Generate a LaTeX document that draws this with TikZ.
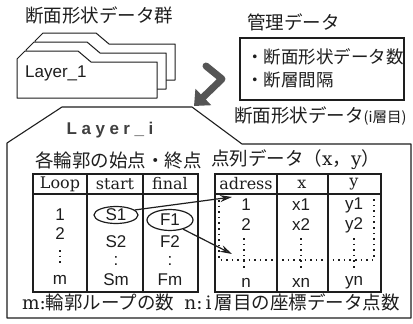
\documentclass[tikz,border=0pt]{standalone}
\usepackage{fontspec}
\setmainfont{DejaVu Serif}
\setsansfont{Liberation Sans}
\newfontfamily\jp{Noto Sans CJK JP}
\usetikzlibrary{arrows.meta,shapes.geometric}
\definecolor{ink}{HTML}{1E1E1E}
\definecolor{arrowgray}{HTML}{555555}
\begin{document}
\begin{tikzpicture}[x=1pt,y=-1pt,
  line/.style={draw=ink,line width=1.1pt},
  folder/.style={draw=ink,line width=1pt,fill=white,line join=round},
  jptext/.style={font=\jp\fontsize{18.5}{20}\selectfont,text=ink,inner sep=0pt},
  jpitem/.style={font=\jp\fontsize{17.5}{19}\selectfont,text=ink,inner sep=0pt},
  head/.style={font=\rmfamily\fontsize{16}{17}\selectfont,text=ink,inner sep=0pt},
  cell/.style={font=\sffamily\fontsize{17}{18}\selectfont,text=ink,inner sep=0pt},
  oval/.style={draw=ink,line width=1.2pt,ellipse,inner sep=0pt},
  dots/.style={draw=ink,line width=1.8pt,dash pattern=on 1.6pt off 4pt},
  conn/.style={draw=ink,line width=1.2pt,-{Stealth[length=12pt,width=7pt,fill=arrowgray]}},
  bent/.style={draw=arrowgray,line width=7pt,line join=round,line cap=round,-{Triangle[length=13pt,width=22pt]}}
]
\useasboundingbox (0,0) rectangle (413,324);
\fill[white] (0,0) rectangle (413,324);

% title
\node[jptext,anchor=west] (title) at (25,15) {断面形状データ群};

% folder stack
\foreach \dx/\dy in {18/18,9/9,0/0}{
  \path[folder,shift={(\dx,-\dy)}] (17,98) -- (17,59) -- (25,51) -- (78,51) -- (91,62) -- (157,62) -- (157,98) -- cycle;
}
\node[font=\sffamily\fontsize{17}{18}\selectfont,text=ink,inner sep=0pt,anchor=west] (layer1) at (25,73) {Layer\_1};

% management data
\node[jptext,anchor=west] (kanri) at (247,22) {管理データ};
\draw[line] (240,38) rectangle (404,100);
\node[jpitem,anchor=west] (item1) at (246,57) {・断面形状データ数};
\node[jpitem,anchor=west] (item2) at (246,80) {・断層間隔};

% bent arrow
\coordinate (ba1) at (206,66);
\coordinate (ba2) at (222,79);
\coordinate (ba3) at (194,106);
\draw[bent] (ba1) -- (ba2) -- (ba3);

% layer i outline
\draw[line,line join=round] (7,318) -- (7,143) -- (62,107) -- (192,107) -- (242,144) -- (411,144) -- (411,318) -- cycle;
\node[jptext,anchor=west] (dansec) at (234,116) {断面形状データ{\fontsize{14.5}{15}\selectfont (i層目)}};
\node[font=\sffamily\bfseries\fontsize{17}{18}\selectfont,text=ink!85,inner sep=0pt] (layeri) at (110,130)
  {L\kern4.5pt a\kern4.5pt y\kern4.5pt e\kern4.5pt r\kern4.5pt \_\kern4.5pt i};

\node[jptext,anchor=west] (kaku) at (35,160) {各輪郭の始点・終点};
\node[jptext,anchor=west] (tenretsu) at (211,160) {点列データ（{\rmfamily x}，{\rmfamily y}）};

% left table
\draw[line] (33,174) rectangle (198,292);
\draw[line] (33,194) -- (198,194);
\draw[line] (87,174) -- (87,292);
\draw[line] (143,174) -- (143,292);
\node[head] (hloop) at (60,184) {Loop};
\node[head] (hstart) at (115,184) {start};
\node[head] (hfinal) at (170,184) {final};

\node[cell] (l1) at (60,215) {1};
\node[cell] (l2) at (60,234) {2};
\draw[dots] (60,250) -- (60,266);
\node[cell] (lm) at (60,280) {m};

\node[oval,minimum width=44pt,minimum height=17pt] (s1) at (116,215) {};
\node[cell] (s1t) at (116,215) {S1};
\node[cell] (s2) at (116,242) {S2};
\node[cell] (sc) at (116,261) {:};
\node[cell] (sm) at (116,280) {Sm};

\node[oval,minimum width=46pt,minimum height=21pt] (f1) at (170,220) {};
\node[cell] (f1t) at (170,220) {F1};
\node[cell] (f2) at (170,242) {F2};
\node[cell] (fc) at (170,261) {:};
\node[cell] (fm) at (170,280) {Fm};

% right table
\draw[line] (215,174) rectangle (381,292);
\draw[line] (215,194) -- (381,194);
\draw[line] (277,174) -- (277,292);
\draw[line] (328,174) -- (328,292);
\node[head] (hadr) at (246,184) {adress};
\node[head] (hx) at (302,184) {x};
\node[head] (hy) at (354,184) {y};

\node[cell] (a1) at (246,205) {1};
\node[cell] (a2) at (246,225) {2};
\node[cell] (an) at (246,283) {n};
\node[cell] (x1) at (301,205) {x1};
\node[cell] (x2) at (301,225) {x2};
\node[cell] (xn) at (301,283) {xn};
\node[cell] (y1) at (354,205) {y1};
\node[cell] (y2) at (354,225) {y2};
\node[cell] (yn) at (354,283) {yn};

\draw[dots] (219,200) -- (219,260) -- (374,260) -- (374,197);
\draw[dots] (244,238) -- (244,268);
\draw[dots] (301,238) -- (301,268);
\draw[dots] (354,238) -- (354,268);

% connectors
\coordinate (a1tip) at (232,197);
\coordinate (antip) at (232,254);
\draw[conn] (s1.15) -- (a1tip);
\draw[conn] (f1.-35) -- (antip);

% footer
\node[jptext,anchor=west] (foot) at (22,302) {{\rmfamily m:}輪郭ループの数\hspace{10pt}{\rmfamily n:\,i\,}層目の座標データ点数};
\end{tikzpicture}
\end{document}
